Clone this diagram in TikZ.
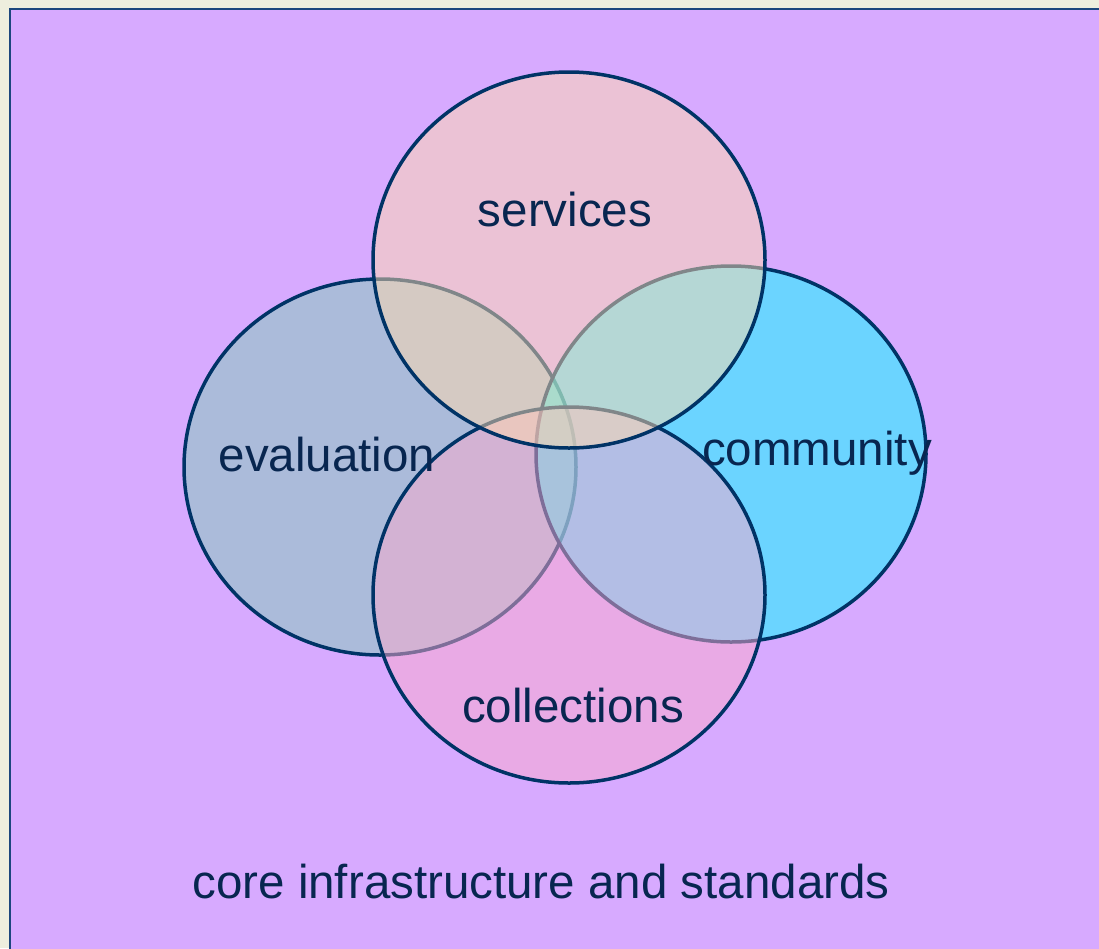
\documentclass[tikz,border=0pt]{standalone}
\usepackage{fontspec}
\setmainfont{Liberation Sans}
\definecolor{bgpurple}{RGB}{215,170,255}
\definecolor{cream}{RGB}{238,238,222}
\definecolor{frame}{RGB}{28,70,125}
\definecolor{navy}{RGB}{0,51,102}
\definecolor{txt}{RGB}{8,38,80}
\definecolor{evalc}{RGB}{128,204,183}
\definecolor{commc}{RGB}{0,255,255}
\definecolor{collc}{RGB}{252,170,205}
\definecolor{servc}{RGB}{255,218,173}
\tikzset{
  setc/.style={draw=navy,line width=3.5pt,fill opacity=0.5},
  lbl/.style={text=txt,anchor=base,inner sep=0pt,font=\fontsize{47.5}{57}\selectfont}
}
\begin{document}
\begin{tikzpicture}[x=1pt,y=-1pt]
\useasboundingbox (0,0) rectangle (1099,948);
\fill[cream] (0,0) rectangle (1099,948);
\fill[bgpurple] (10,9) rectangle (1105,955);
\draw[frame,line width=2.5pt] (10,955) -- (10,9) -- (1105,9);
% sets
\path[setc,fill=evalc] (380,467) ellipse [x radius=196,y radius=188];
\path[setc,fill=commc] (731,454) ellipse [x radius=195,y radius=188];
\path[setc,fill=collc] (569,595) ellipse [x radius=196,y radius=188];
\path[setc,fill=servc] (569,260) ellipse [x radius=196,y radius=188];
% labels
\node[lbl] (serv) at (565,226) {services};
\node[lbl] (eval) at (327,471) {evaluation};
\node[lbl] (comm) at (817,465) {community};
\node[lbl] (coll) at (573,722) {collections};
\node[lbl] (core) at (541,898) {core infrastructure and standards};
\end{tikzpicture}
\end{document}
